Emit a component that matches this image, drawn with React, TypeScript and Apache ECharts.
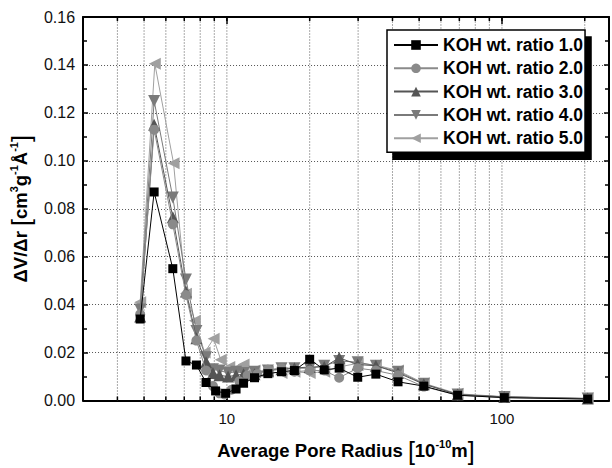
import React, { useEffect, useRef } from 'react';
import * as echarts from 'echarts';

const SERIES_NAMES = [
  'KOH wt. ratio 1.0',
  'KOH wt. ratio 2.0',
  'KOH wt. ratio 3.0',
  'KOH wt. ratio 4.0',
  'KOH wt. ratio 5.0',
];

// [average pore radius (1e-10 m), dV/dr]
const KOH_1_0: [number, number][] = [
  [4.84, 0.034], [5.44, 0.087], [6.36, 0.055], [7.1, 0.0165], [7.75, 0.0148],
  [8.4, 0.0075], [9.1, 0.004], [9.9, 0.003], [10.8, 0.0048], [11.5, 0.0072],
  [12.6, 0.0095], [14.1, 0.0112], [15.8, 0.012], [17.6, 0.0125], [20, 0.0172],
  [22.6, 0.0128], [25.6, 0.0135], [29.9, 0.0097], [34.8, 0.011], [41.9, 0.0078],
  [52, 0.006], [69, 0.0022], [102, 0.0012], [205, 0.0006],
];
const KOH_2_0: [number, number][] = [
  [4.84, 0.036], [5.44, 0.113], [6.36, 0.0735], [7.1, 0.044], [7.75, 0.025],
  [8.4, 0.0125], [8.9, 0.006], [9.4, 0.003], [9.8, 0.0025], [10.4, 0.0045],
  [11.1, 0.008], [11.9, 0.0105], [12.9, 0.011], [14.1, 0.0128], [15.8, 0.0135],
  [17.6, 0.012], [20, 0.0125], [22.6, 0.0125], [25.6, 0.0095], [29.9, 0.0135],
  [34.8, 0.0125], [41.9, 0.0105], [52, 0.0058], [69, 0.0022], [102, 0.0012], [205, 0.0006],
];
const KOH_3_0: [number, number][] = [
  [4.84, 0.035], [5.44, 0.115], [6.36, 0.0765], [7.1, 0.0455], [7.75, 0.026],
  [8.4, 0.016], [8.9, 0.0115], [9.4, 0.0105], [10.1, 0.01], [10.8, 0.0105],
  [11.5, 0.011], [12.6, 0.011], [14.1, 0.0125], [15.8, 0.013], [17.6, 0.0135],
  [20, 0.014], [22.6, 0.014], [25.6, 0.0178], [29.9, 0.015], [34.8, 0.0145],
  [41.9, 0.0115], [52, 0.0068], [69, 0.0025], [102, 0.0015], [205, 0.0008],
];
const KOH_4_0: [number, number][] = [
  [4.84, 0.038], [5.44, 0.125], [6.36, 0.0847], [7.1, 0.0505], [7.75, 0.029],
  [8.4, 0.018], [8.9, 0.013], [9.4, 0.0125], [10.1, 0.0115], [10.8, 0.012],
  [11.5, 0.0115], [12.6, 0.012], [14.1, 0.0125], [15.8, 0.0135], [17.6, 0.0135],
  [20, 0.0135], [22.6, 0.0145], [25.6, 0.0165], [29.9, 0.016], [34.8, 0.0145],
  [41.9, 0.012], [52, 0.007], [69, 0.0025], [102, 0.0015], [205, 0.0008],
];
const KOH_5_0: [number, number][] = [
  [4.84, 0.041], [5.47, 0.1405], [6.4, 0.099], [7.1, 0.0445], [7.65, 0.0333],
  [8.3, 0.02], [8.95, 0.0258], [9.5, 0.017], [10.2, 0.014], [10.9, 0.0135],
  [11.5, 0.015], [12.6, 0.0125], [14.1, 0.012], [15.8, 0.0115], [17.6, 0.012],
  [20, 0.0115], [22.6, 0.012], [25.6, 0.014], [29.9, 0.0155], [34.8, 0.0148],
  [41.9, 0.0125], [52, 0.0072], [69, 0.0028], [102, 0.0016], [205, 0.0009],
];

const X_MIN = 3;
const X_MAX = 245;
const Y_MIN = 0;
const Y_MAX = 0.16;
const Y_INTERVAL = 0.02;
const X_LABELS = [10, 100];
const X_GRID_TICKS = [4, 5, 6, 7, 8, 9, 10, 20, 30, 40, 50, 60, 70, 80, 90, 100, 200];

const FONT = "'Liberation Sans', Arial, Helvetica, sans-serif";

const STYLES = [
  { symbol: 'rect', rotate: 0, size: 9, color: '#000000' },
  { symbol: 'circle', rotate: 0, size: 10, color: '#8a8a8a' },
  { symbol: 'triangle', rotate: 0, size: 12, color: '#555555' },
  { symbol: 'triangle', rotate: 180, size: 12, color: '#7a7a7a' },
  { symbol: 'triangle', rotate: 90, size: 12, color: '#a0a0a0' },
];

const DATA = [KOH_1_0, KOH_2_0, KOH_3_0, KOH_4_0, KOH_5_0];

export default function App() {
  const ref = useRef<HTMLDivElement>(null);
  useEffect(() => {
    document.body.style.margin = '0';
    if (!ref.current) return;
    const chart = echarts.init(ref.current, null, { renderer: 'svg' });

    const richTitle = {
      b: { fontSize: 18.5, fontWeight: 'bold', fontFamily: FONT, color: '#000', lineHeight: 24 },
      br: { fontSize: 25, fontWeight: 'normal', fontFamily: FONT, color: '#000', lineHeight: 24 },
      sup: { fontSize: 11, fontWeight: 'bold', fontFamily: FONT, color: '#000', verticalAlign: 'top', lineHeight: 13 },
    };

    const lineSeries = DATA.map((d, i) => ({
      name: SERIES_NAMES[i],
      type: 'line',
      data: d,
      symbol: STYLES[i].symbol,
      symbolRotate: STYLES[i].rotate,
      symbolSize: STYLES[i].size,
      lineStyle: { color: STYLES[i].color, width: 1 },
      itemStyle: { color: STYLES[i].color },
      z: 10 - i,
    }));

    const gridSeries = {
      type: 'custom',
      silent: true,
      clip: false,
      z: 1,
      data: X_GRID_TICKS.map((v) => [v, Y_MIN]),
      encode: { x: 0, y: 1 },
      renderItem: (_p: any, api: any) => {
        const v = api.value(0);
        const b = api.coord([v, Y_MIN]);
        const t = api.coord([v, Y_MAX]);
        return {
          type: 'group',
          children: [
            { type: 'line', shape: { x1: b[0], y1: b[1], x2: t[0], y2: t[1] }, style: { stroke: '#555', lineWidth: 1, lineDash: [1, 2] } },
            { type: 'line', shape: { x1: b[0], y1: b[1], x2: b[0], y2: b[1] - 4 }, style: { stroke: '#000', lineWidth: 1.5 } },
            { type: 'line', shape: { x1: t[0], y1: t[1], x2: t[0], y2: t[1] + 4 }, style: { stroke: '#000', lineWidth: 1.5 } },
          ],
        };
      },
    };

    const axisLine = { show: true, onZero: false, lineStyle: { color: '#000', width: 2 } };

    chart.setOption({
      animation: false,
      backgroundColor: '#fff',
      grid: { left: 80, right: 3, top: 17, bottom: 62 },
      legend: {
        data: SERIES_NAMES,
        orient: 'vertical',
        left: 387,
        top: 30,
        padding: [5, 2, 4, 6],
        itemWidth: 44,
        itemHeight: 12,
        itemGap: 3.3,
        backgroundColor: '#fff',
        borderColor: '#000',
        borderWidth: 1.5,
        borderRadius: 0,
        shadowColor: '#000',
        shadowBlur: 0,
        shadowOffsetX: 6,
        shadowOffsetY: 7,
        textStyle: { fontSize: 17.5, fontWeight: 'bold', fontFamily: FONT, color: '#000', lineHeight: 20 },
      },
      xAxis: [
        {
          type: 'log',
          min: X_MIN,
          max: X_MAX,
          position: 'bottom',
          axisLine,
          axisTick: { show: true, inside: true, length: 7, lineStyle: { color: '#000', width: 1.5 } },
          splitLine: { show: false },
          axisLabel: {
            fontSize: 15,
            fontFamily: FONT,
            color: '#111',
            margin: 10,
            formatter: (v: number) => (X_LABELS.some((l) => Math.abs(l - v) < 1e-6 * l) ? String(Math.round(v)) : ''),
          },
          name: '{b|Average Pore Radius }{br|[}{b|10}{sup|-10}{b|m}{br|]}',
          nameLocation: 'middle',
          nameGap: 38,
          nameTextStyle: { rich: richTitle },
        },
        {
          type: 'log',
          min: X_MIN,
          max: X_MAX,
          position: 'top',
          axisLine,
          axisTick: { show: true, inside: true, length: 7, lineStyle: { color: '#000', width: 1.5 } },
          splitLine: { show: false },
          axisLabel: { show: false },
        },
      ],
      yAxis: [
        {
          type: 'value',
          min: Y_MIN,
          max: Y_MAX,
          interval: Y_INTERVAL,
          position: 'left',
          axisLine,
          axisTick: { show: true, inside: true, length: 5, lineStyle: { color: '#000', width: 1.5 } },
          minorTick: { show: true, splitNumber: 2, length: 4, lineStyle: { color: '#000', width: 1.5 } },
          splitLine: { show: true, lineStyle: { color: '#555', width: 1, type: [1, 2] } },
          axisLabel: {
            fontSize: 16,
            fontFamily: FONT,
            color: '#111',
            margin: 8,
            formatter: (v: number) => v.toFixed(2),
          },
          name: '{b|ΔV/Δr }{br|[}{b|cm}{sup|3}{b|g}{sup|-1}{b|Å}{sup|-1}{br|]}',
          nameLocation: 'middle',
          nameGap: 44,
          nameTextStyle: { rich: richTitle },
        },
        {
          type: 'value',
          min: Y_MIN,
          max: Y_MAX,
          interval: Y_INTERVAL,
          position: 'right',
          axisLine,
          axisTick: { show: true, inside: true, length: 5, lineStyle: { color: '#000', width: 1.5 } },
          minorTick: { show: true, splitNumber: 2, length: 4, lineStyle: { color: '#000', width: 1.5 } },
          splitLine: { show: false },
          axisLabel: { show: false },
        },
      ],
      series: [gridSeries, ...lineSeries],
    } as any);

    return () => chart.dispose();
  }, []);

  return <div ref={ref} style={{ width: 612, height: 468 }} />;
}
